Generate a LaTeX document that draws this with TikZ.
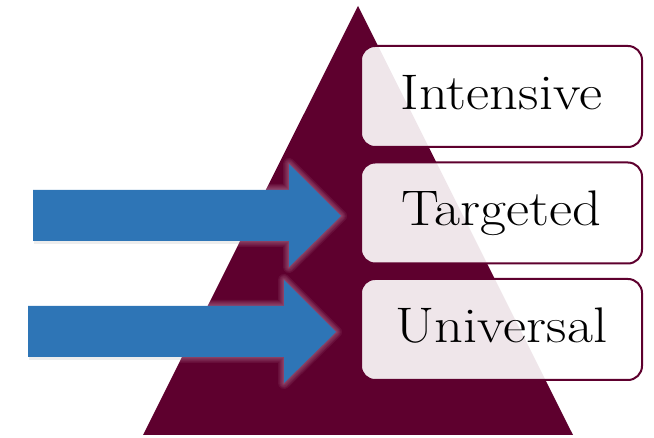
\documentclass[tikz,border=0pt]{standalone}
\usepackage{graphicx}
\definecolor{maroon}{RGB}{94,0,46}
\definecolor{arrowblue}{RGB}{46,117,182}
\definecolor{glowpink}{RGB}{190,130,160}
\newcommand{\lvltext}[1]{\scalebox{1.13}[1]{#1}}
\begin{document}
\begin{tikzpicture}[x=1pt,y=-1pt,
  levelbox/.style={draw=maroon, line width=2pt, fill=white, fill opacity=0.9,
    text opacity=1, text=black, rounded corners=14pt, minimum width=281pt,
    minimum height=101pt, inner sep=0pt, text height=35pt, text depth=9pt,
    font=\fontsize{50}{60}\selectfont},
  glowline/.style={draw=glowpink, line join=round, draw opacity=0.11},
  arrowfill/.style={fill=arrowblue},
  shadowfill/.style={fill=black, fill opacity=0.07}
]
\useasboundingbox (0,0) rectangle (654,438);
% pyramid
\fill[maroon] (358,6) -- (573,435) -- (143,435) -- cycle;
\def\arrowA{(33,190) -- (289,190) -- (289,164) -- (341,216) -- (289,267) -- (289,241) -- (33,241) -- cycle}
\def\arrowB{(28,306) -- (284,306) -- (284,280) -- (336,332) -- (284,383) -- (284,357) -- (28,357) -- cycle}
% soft shadow on white
\begin{scope}[shift={(1,3)}]
  \fill[shadowfill] \arrowA;
  \fill[shadowfill] \arrowB;
\end{scope}
% glow over the pyramid
\begin{scope}
  \clip (358,6) -- (573,435) -- (143,435) -- cycle;
  \foreach \w in {12,9.5,7.5,5.5,3.5,2}{
    \draw[glowline, line width=\w pt] \arrowA;
    \draw[glowline, line width=\w pt] \arrowB;
  }
\end{scope}
\fill[arrowfill] \arrowA;
\fill[arrowfill] \arrowB;
% levels
\node[levelbox] (intensive) at (501.5,96.5) {\lvltext{Intensive}};
\node[levelbox] (targeted) at (501.5,213) {\lvltext{Targeted}};
\node[levelbox] (universal) at (501.5,329.5) {\lvltext{Universal}};
\end{tikzpicture}
\end{document}
